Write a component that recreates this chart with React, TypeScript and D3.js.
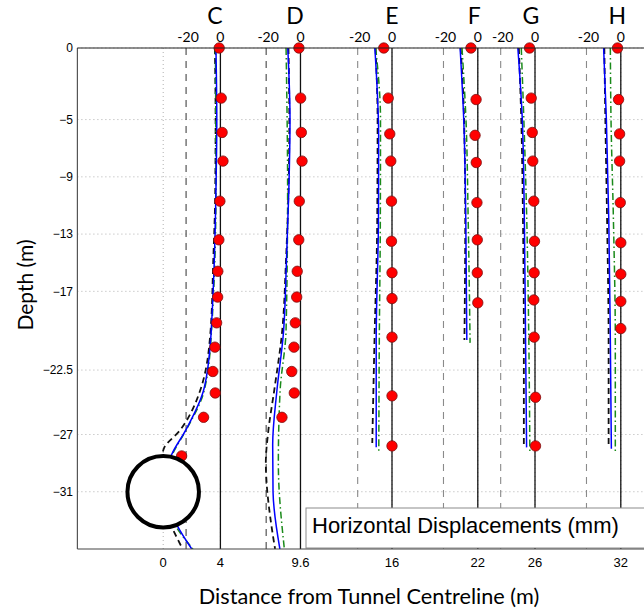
import React from 'react';
import * as d3 from 'd3';

// Inclinometers and their offsets from the tunnel centreline (m)
const inclinometers = ['C', 'D', 'E', 'F', 'G', 'H'];
const offsetsM = [4, 9.6, 16, 22, 26, 32];
const labelShiftM = [-0.38, -0.38, 0, -0.25, -0.28, -0.25];

const xTicks = [0, 4, 9.6, 16, 22, 26, 32];
const xTickLabels = ['0', '4', '9.6', '16', '22', '26', '32'];
const yTicks = [0, -5, -9, -13, -17, -22.5, -27, -31];
const yTickLabels = ['0', '\u22125', '\u22129', '\u221213', '\u221217', '\u221222.5', '\u221227', '\u221231'];
const dispTicks = [-20, 0];

// Tunnel
const tunnelCentreX = 0;
const tunnelCentreDepth = -31;
const tunnelDiameter = 5;

// Measured displacements (mm) at depth (m)
const measDepthC = [0, -3.5, -5.9, -7.9, -10.7, -13.4, -15.6, -17.4, -19.2, -20.9, -22.6, -24.1, -25.8, -28.5];
const measDispC = [-0.7, 0.5, 1.0, 1.5, -0.3, -0.9, -1.5, -1.6, -2.2, -3.2, -4.4, -3.0, -9.8, -22.6];
const measDepthD = [0, -3.5, -5.9, -7.9, -10.7, -13.4, -15.6, -17.4, -19.2, -20.9, -22.6, -24.1, -25.8];
const measDispD = [-0.9, 0.1, 0.5, 0.9, -0.7, -1.0, -1.9, -2.2, -3.0, -3.8, -5.1, -3.6, -10.8];
const measDepthE = [0, -3.5, -6.0, -7.9, -10.7, -13.5, -15.7, -17.5, -20.2, -24.3, -27.8];
const measDispE = [-4.8, -2.2, -1.3, -0.7, -0.3, -0.3, 0, 0, 0, 0, 0];
const measDepthF = [0, -3.6, -6.1, -8.0, -10.8, -13.4, -15.7, -17.8];
const measDispF = [-4.0, -1.0, -1.6, -0.9, -0.5, -0.3, -0.3, 0];
const measDepthG = [0, -3.5, -5.9, -7.9, -10.7, -13.5, -15.7, -17.6, -20.2, -24.4, -27.8];
const measDispG = [-3.2, -2.2, -1.6, -1.3, -0.7, -0.3, -0.5, -0.7, -0.5, 0.3, 0.3];
const measDepthH = [0, -3.6, -6.0, -7.9, -10.8, -13.6, -15.8, -17.7, -19.6];
const measDispH = [-1.9, -1.3, -0.7, -0.7, -0.3, 0, 0, 0, 0];

// Predicted profiles [depth m, displacement mm]
// blue solid
const blueC = [[0, -2.6], [-5, -2.1], [-10, -2.6], [-15.7, -3.8], [-19.2, -5.1], [-20.4, -5.7], [-24.0, -10], [-26.7, -20.2], [-28.4, -28.4], [-31, -33], [-33.4, -25], [-35, -16.7]];
const blueD = [[0, -7.4], [-5, -6.1], [-10, -6.8], [-15, -8.2], [-20, -10.0], [-24, -13.8], [-27.7, -16.2], [-31, -16], [-35, -12]];
const blueE = [[0, -10], [-3, -8.6], [-6, -7.8], [-12, -7.9], [-20.4, -9.2], [-27.9, -9.2]];
const blueF = [[0, -10.3], [-5, -8.2], [-12, -7.0], [-20.4, -6.4]];
const blueG = [[0, -10], [-5, -7.4], [-12, -6.2], [-20.4, -5.5], [-27.9, -4.9]];
const blueH = [[0, -10], [-5, -8.4], [-12, -7.0], [-20.4, -6.1], [-28, -5.5]];
// black dashed
const dashC = [[0, -3.2], [-5, -2.8], [-10, -3.0], [-15, -4.2], [-19.7, -5.7], [-24.0, -12], [-26.7, -23.5], [-28.0, -33], [-31, -37], [-33.2, -29.4], [-35, -22]];
const dashD = [[0, -7.0], [-5, -6.5], [-10, -7.0], [-15, -8.5], [-19.7, -10.6], [-24, -15.4], [-26.7, -18.7], [-29, -20.2], [-30.6, -19.6], [-32.7, -17.7], [-35, -14.8]];
const dashE = [[0, -9.6], [-5, -8.4], [-12, -8.6], [-20.4, -10.2], [-27.6, -11.5]];
const dashF = [[0, -10], [-5, -8.0], [-12, -7.3], [-20.4, -7.8]];
const dashG = [[0, -9.4], [-5, -8.0], [-12, -7.0], [-20.4, -6.5], [-27.7, -6.5]];
const dashH = [[0, -9.6], [-5, -9.0], [-12, -8.0], [-20.4, -7.1], [-27.7, -7.1]];
// green dash-dot
const greenC = [[0, -2.9], [-10, -2.6], [-20, -5.3], [-24.0, -9.6], [-26.7, -20], [-28.4, -28], [-31, -33], [-33.4, -26], [-35, -16]];
const greenD = [[0, -8.4], [-10, -7.5], [-19.7, -8.4], [-24, -11.9], [-29, -12.9], [-35, -9.4]];
const greenE = [[0, -9.5], [-5, -6.7], [-12, -6.8], [-20.4, -7.4], [-28.2, -7.7]];
const greenF = [[0, -9.2], [-5, -6.9], [-12, -5.6], [-20.6, -4.5]];
const greenG = [[0, -8], [-5, -6.5], [-12, -4.8], [-20.4, -3.6], [-28.2, -3.0]];
const greenH = [[0, -6.1], [-5, -5.7], [-12, -4.3], [-20.4, -3.2], [-28.2, -3.2]];

const measDepths = [measDepthC, measDepthD, measDepthE, measDepthF, measDepthG, measDepthH];
const measDisps = [measDispC, measDispD, measDispE, measDispF, measDispG, measDispH];
const blueProfiles = [blueC, blueD, blueE, blueF, blueG, blueH];
const dashProfiles = [dashC, dashD, dashE, dashF, dashG, dashH];
const greenProfiles = [greenC, greenD, greenE, greenF, greenG, greenH];

const legendText = 'Horizontal Displacements (mm)';
const xAxisTitle = 'Distance from Tunnel Centreline (m)';
const yAxisTitle = 'Depth (m)';

const W = 644;
const H = 615;
const mmToM = 0.12;

export default function App() {
  const x = d3.scaleLinear().domain([-6, 35]).range([77.4, 77.4 + 41 * 14.3]);
  const y = d3.scaleLinear().domain([0, -35]).range([48, 549]);
  const left = x(-6);
  const right = W;
  const top = y(0);
  const bottom = y(-35);

  const px = (off: number, mm: number) => x(off + mm * mmToM);

  const makeLine = (off: number) =>
    d3
      .line<number[]>()
      .x((d) => px(off, d[1]))
      .y((d) => y(d[0]))
      .curve(d3.curveMonotoneY);

  const sans = 'Lato, "Open Sans", sans-serif';
  const helv = '"Liberation Sans", Arial, sans-serif';

  return (
    <svg
      width={W}
      height={H}
      style={{ position: 'absolute', left: 0, top: 0, background: '#fff' }}
    >
      <defs>
        <clipPath id="plotClip">
          <rect x={left} y={top} width={right - left} height={bottom - top} />
        </clipPath>
      </defs>
      <rect x={0} y={0} width={W} height={H} fill="#fff" />

      {/* grid */}
      <g stroke="#b0b0b0" strokeWidth={1} strokeDasharray="1,3">
        {yTicks.map((t, i) => (
          <line key={'gy' + i} x1={left} x2={right} y1={y(t)} y2={y(t)} />
        ))}
        {xTicks.map((t, i) => (
          <line key={'gx' + i} x1={x(t)} x2={x(t)} y1={top} y2={bottom} />
        ))}
      </g>

      {/* -20 mm reference lines and 0 lines */}
      {offsetsM.map((off, i) => (
        <g key={'ref' + i}>
          <line
            x1={px(off, -20)}
            x2={px(off, -20)}
            y1={top}
            y2={bottom}
            stroke={i < 2 ? '#444' : '#8a8a8a'}
            strokeWidth={1.1}
            strokeDasharray="7,6"
          />
          <line x1={px(off, 0)} x2={px(off, 0)} y1={top} y2={bottom} stroke="#111" strokeWidth={1.3} />
        </g>
      ))}

      {/* predicted profiles */}
      <g clipPath="url(#plotClip)" fill="none">
        {offsetsM.map((off, i) => (
          <g key={'prof' + i}>
            <path d={makeLine(off)(dashProfiles[i] as number[][]) || ''} stroke="#111" strokeWidth={1.8} strokeDasharray="6,4" />
            <path d={makeLine(off)(greenProfiles[i] as number[][]) || ''} stroke="#1a8a1a" strokeWidth={1.5} strokeDasharray="7,3,1.5,3" />
            <path d={makeLine(off)(blueProfiles[i] as number[][]) || ''} stroke="#0000ff" strokeWidth={1.5} />
          </g>
        ))}
      </g>

      {/* measured points */}
      {offsetsM.map((off, i) => (
        <g key={'meas' + i}>
          {measDepths[i].map((dep, j) => (
            <circle
              key={j}
              cx={px(off, measDisps[i][j])}
              cy={y(dep)}
              r={5.2}
              fill="#ff0000"
              stroke="#7a1010"
              strokeWidth={0.8}
            />
          ))}
        </g>
      ))}

      {/* tunnel */}
      <circle
        cx={x(tunnelCentreX)}
        cy={y(tunnelCentreDepth)}
        r={x(tunnelDiameter / 2) - x(0)}
        fill="#fff"
        stroke="#000"
        strokeWidth={4}
      />

      {/* legend box */}
      <rect x={306} y={508} width={360} height={40} fill="#fff" stroke="#8c8c8c" strokeWidth={1} />
      <text x={312} y={532.5} fontFamily={helv} fontSize={22} fill="#000">
        {legendText}
      </text>

      {/* axes */}
      <line x1={left} x2={left} y1={top} y2={bottom} stroke="#555" strokeWidth={1.2} />
      <line x1={left} x2={right} y1={bottom} y2={bottom} stroke="#444" strokeWidth={1.2} />
      <line x1={left} x2={right} y1={top} y2={top} stroke="#222" strokeWidth={1.2} />

      {/* y tick labels */}
      {yTicks.map((t, i) => (
        <text key={'yt' + i} x={73} y={y(t) + 4.2} textAnchor="end" fontFamily={helv} fontSize={12} fill="#000">
          {yTickLabels[i]}
        </text>
      ))}
      {/* x tick labels */}
      {xTicks.map((t, i) => (
        <text key={'xt' + i} x={x(t)} y={566.5} textAnchor="middle" fontFamily={helv} fontSize={13} fill="#000">
          {xTickLabels[i]}
        </text>
      ))}

      {/* inclinometer headers */}
      {inclinometers.map((name, i) => (
        <g key={'hd' + i}>
          <text x={x(offsetsM[i] + labelShiftM[i])} y={23.5} textAnchor="middle" fontFamily={sans} fontSize={23} fill="#000">
            {name}
          </text>
          {dispTicks.map((d, j) => (
            <text
              key={j}
              x={px(offsetsM[i], d) + (d < 0 ? 2 : 0)}
              y={41.5}
              textAnchor="middle"
              fontFamily={sans}
              fontSize={14}
              fill="#000"
            >
              {String(d)}
            </text>
          ))}
        </g>
      ))}

      {/* axis titles */}
      <text x={369} y={604} textAnchor="middle" fontFamily={sans} fontSize={21.7} fill="#000">
        {xAxisTitle}
      </text>
      <text
        transform={`translate(33,285) rotate(-90)`}
        textAnchor="middle"
        fontFamily={sans}
        fontSize={21}
        fill="#000"
      >
        {yAxisTitle}
      </text>
    </svg>
  );
}
